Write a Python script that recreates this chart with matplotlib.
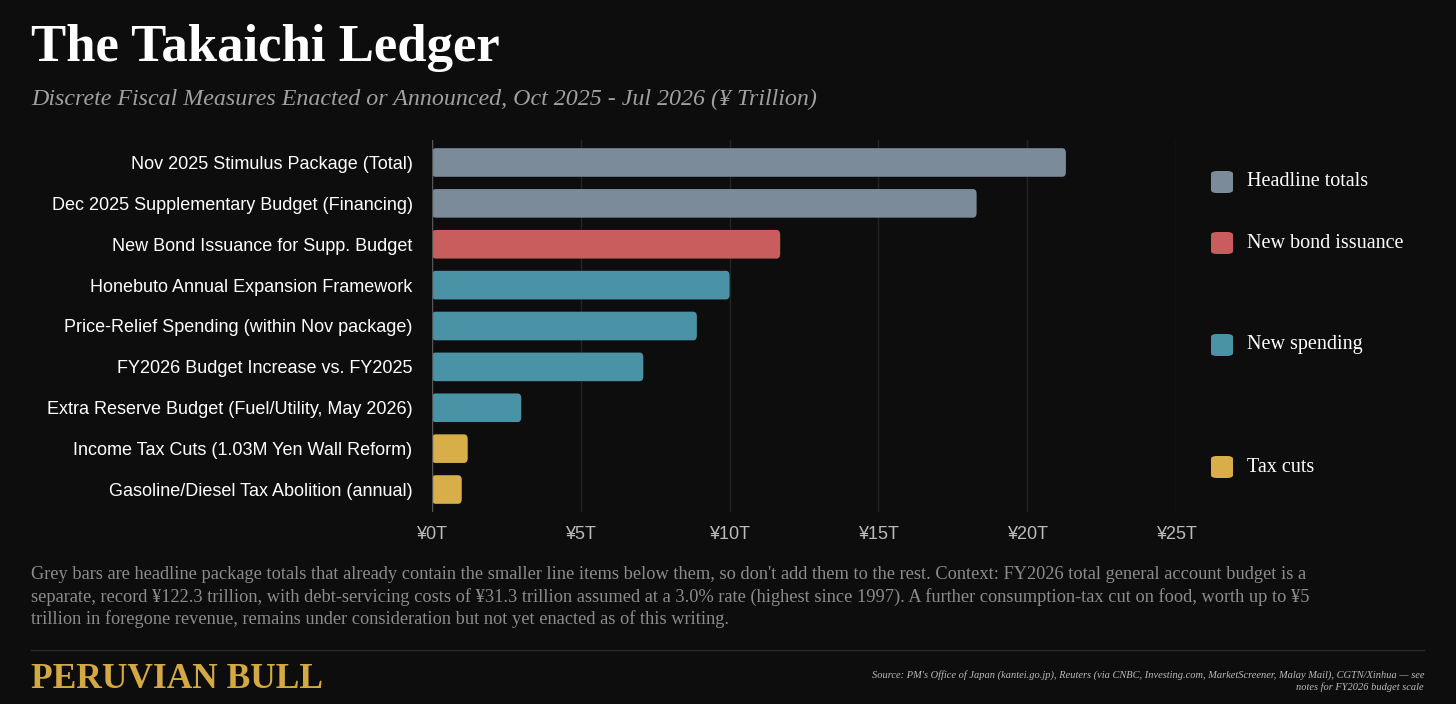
import matplotlib
matplotlib.use("Agg")
import matplotlib.pyplot as plt
from matplotlib.patches import FancyBboxPatch

labels = ["Nov 2025 Stimulus Package (Total)",
          "Dec 2025 Supplementary Budget (Financing)",
          "New Bond Issuance for Supp. Budget",
          "Honebuto Annual Expansion Framework",
          "Price-Relief Spending (within Nov package)",
          "FY2026 Budget Increase vs. FY2025",
          "Extra Reserve Budget (Fuel/Utility, May 2026)",
          "Income Tax Cuts (1.03M Yen Wall Reform)",
          "Gasoline/Diesel Tax Abolition (annual)"]
values = [21.3, 18.3, 11.7, 10.0, 8.9, 7.1, 3.0, 1.2, 1.0]
groups = ["Headline totals", "Headline totals", "New bond issuance",
          "New spending", "New spending", "New spending", "New spending",
          "Tax cuts", "Tax cuts"]
group_colors = {"Headline totals": "#7b8b9a", "New bond issuance": "#c95d5d",
                "New spending": "#4a93a6", "Tax cuts": "#d8ae48"}
xticks = [0, 5, 10, 15, 20, 25]
xticklabels = ["¥0T", "¥5T", "¥10T", "¥15T", "¥20T", "¥25T"]

BG = "#0d0d0d"
W, H = 1456, 704
fig = plt.figure(figsize=(14.56, 7.04), dpi=100, facecolor=BG)
ax = fig.add_axes([432/W, 1-512/H, (1176-432)/W, (512-140)/H], facecolor=BG)

ys = list(range(len(labels)))
for y, v, g in zip(ys, values, groups):
    p = FancyBboxPatch((0, y - 0.35), v, 0.7,
                       boxstyle="round,pad=0,rounding_size=0.12",
                       facecolor=group_colors[g], edgecolor="none", zorder=3)
    ax.add_patch(p)
ax.barh(ys, values, height=0.0, color="none")
ax.set_xlim(0, 25)
ax.set_ylim(len(labels) - 0.45, -0.55)
ax.set_yticks(ys)
ax.set_yticklabels(labels, fontsize=13, color="white", family="Liberation Sans")
ax.set_xticks(xticks)
ax.set_xticklabels(xticklabels, fontsize=13, color="#bbbbbb", family="Liberation Sans")
ax.tick_params(length=0, pad=10)
ax.tick_params(axis="y", pad=14)
ax.grid(axis="x", color="#242424", lw=1, zorder=0)
for s in ax.spines.values():
    s.set_visible(False)
ax.axvline(0, color="#555555", lw=1, zorder=4)

leg = [("Headline totals", 182), ("New bond issuance", 243), ("New spending", 345), ("Tax cuts", 467)]
for name, yp in leg:
    fig.patches.append(FancyBboxPatch((1211/W, 1-(yp+11)/H), 22/W, 22/H,
                       boxstyle="round,pad=0,rounding_size=0.004",
                       transform=fig.transFigure, facecolor=group_colors[name], edgecolor="none"))
    fig.text(1247/W, 1-yp/H, name, fontsize=14.5, color="white", va="center",
             family="Liberation Serif")

fig.text(31/W, 1-48/H, "The Takaichi Ledger", fontsize=38, fontweight="bold",
         color="white", va="center", family="Liberation Serif")
fig.text(31/W, 1-99/H, "Discrete Fiscal Measures Enacted or Announced, Oct 2025 - Jul 2026 (¥ Trillion)",
         fontsize=17.3, style="italic", color="#a0a0a0", va="center", family="Liberation Serif")

note = ("Grey bars are headline package totals that already contain the smaller line items below them, so don't add them to the rest. Context: FY2026 total general account budget is a\n"
        "separate, record ¥122.3 trillion, with debt-servicing costs of ¥31.3 trillion assumed at a 3.0% rate (highest since 1997). A further consumption-tax cut on food, worth up to ¥5\n"
        "trillion in foregone revenue, remains under consideration but not yet enacted as of this writing.")
fig.text(31/W, 1-597/H, note, fontsize=13.2, color="#8c8c8c", va="center",
         family="Liberation Serif", linespacing=1.3)
fig.add_artist(plt.Line2D([31/W, 1424/W], [1-650/H, 1-650/H], color="#2a2a2a", lw=1,
                          transform=fig.transFigure))
fig.text(31/W, 1-679/H, "PERUVIAN BULL", fontsize=25.5, fontweight="bold", color="#d4a843",
         va="center", family="Liberation Serif")
fig.text(1424/W, 1-681/H, "Source: PM's Office of Japan (kantei.go.jp), Reuters (via CNBC, Investing.com, MarketScreener, Malay Mail), CGTN/Xinhua — see\nnotes for FY2026 budget scale",
         fontsize=7.5, style="italic", color="#bbbbbb", va="center", ha="right",
         family="Liberation Serif", linespacing=1.2)

fig.savefig("out.png", dpi=100, facecolor=BG)
